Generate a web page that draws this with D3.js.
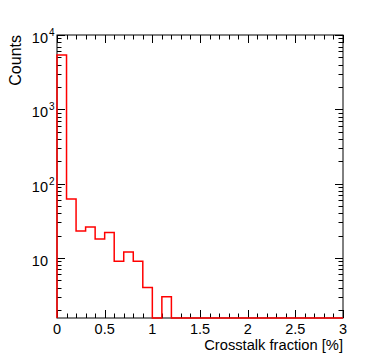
<!DOCTYPE html>
<meta charset="utf-8">
<title>Crosstalk fraction</title>
<style>
body { margin: 0; background: #fff; }
text { font-family: "Liberation Sans", Arial, sans-serif; fill: #000; }
</style>
<body>
<svg width="382" height="354"></svg>
<script src="https://d3js.org/d3.v7.min.js"></script>
<script>

// bin lower edges (width 0.1) and contents
var binEdges = [0, 0.1, 0.2, 0.3, 0.4, 0.5, 0.6, 0.7, 0.8, 0.9, 1.0, 1.1, 1.2, 1.3, 1.4,
                1.5, 1.6, 1.7, 1.8, 1.9, 2.0, 2.1, 2.2, 2.3, 2.4, 2.5, 2.6, 2.7, 2.8, 2.9];
var counts = [5400, 62, 23, 26, 18, 22, 9, 12, 9, 4, 0, 3, 0, 0, 0,
              0, 0, 0, 0, 0, 0, 0, 0, 0, 0, 0, 0, 0, 0, 0];
var binWidth = 0.1;
var xTickLabels = ["0", "0.5", "1", "1.5", "2", "2.5", "3"];
var yDecades = [1, 2, 3, 4];

var svg = d3.select("svg"),
    margin = {top: 35, right: 39, bottom: 36, left: 57},
    width = +svg.attr("width") - margin.left - margin.right,
    height = +svg.attr("height") - margin.top - margin.bottom;

var yMin = 1.556;
var x = d3.scaleLinear().domain([0, 3]).range([0, width]),
    y = d3.scaleLog().domain([yMin, 1e4]).range([height, 0]);

var g = svg.append("g")
    .attr("transform", "translate(" + margin.left + "," + margin.top + ")");

var majorLen = 8, minorLen = 4.5;

// frame
g.append("rect")
    .attr("width", width).attr("height", height)
    .attr("fill", "none").attr("stroke", "#000").attr("stroke-width", 1);

// x ticks (bottom and top)
var xMinor = d3.range(0, 31).map(function(i) { return i / 10; });
xMinor.forEach(function(v, i) {
  var len = (i % 5 === 0) ? majorLen : minorLen;
  var px = Math.round(x(v)) + 0.5;
  g.append("line").attr("x1", px).attr("x2", px)
    .attr("y1", height).attr("y2", height - len).attr("stroke", "#000");
  g.append("line").attr("x1", px).attr("x2", px)
    .attr("y1", 0).attr("y2", len).attr("stroke", "#000");
});

g.selectAll(".xlab")
  .data(xTickLabels)
  .enter().append("text")
    .attr("class", "xlab")
    .attr("x", function(d) { return x(+d); })
    .attr("y", height + 16)
    .attr("text-anchor", "middle")
    .style("font-size", "14.5px")
    .text(function(d) { return d; });

// y ticks (left and right)
var yTicks = [];
for (var k = 0; k <= 3; k++) {
  for (var m = 1; m <= 9; m++) {
    var v = m * Math.pow(10, k);
    if (v >= yMin && v <= 1e4) yTicks.push({v: v, major: m === 1});
  }
}
yTicks.push({v: 1e4, major: true});
yTicks.forEach(function(t) {
  var len = t.major ? majorLen : minorLen;
  var py = Math.round(y(t.v)) + 0.5;
  g.append("line").attr("x1", 0).attr("x2", len)
    .attr("y1", py).attr("y2", py).attr("stroke", "#000");
  g.append("line").attr("x1", width).attr("x2", width - len)
    .attr("y1", py).attr("y2", py).attr("stroke", "#000");
});

yDecades.forEach(function(e) {
  var py = y(Math.pow(10, e));
  g.append("text")
    .attr("x", -9).attr("y", py + 8)
    .attr("text-anchor", "end")
    .style("font-size", "14.5px")
    .text("10");
  if (e > 1) {
    g.append("text")
      .attr("x", -8).attr("y", py + 1)
      .style("font-size", "10px")
      .text(e);
  }
});

// histogram outline
var pts = [[0, yMin]];
binEdges.forEach(function(b, i) {
  var c = Math.max(counts[i], yMin);
  pts.push([b, c]);
  pts.push([b + binWidth, c]);
});
var line = d3.line()
    .x(function(d) { return x(d[0]); })
    .y(function(d) { return y(d[1]); });
g.append("path")
    .datum(pts)
    .attr("d", line)
    .attr("fill", "none")
    .attr("stroke", "#ff0000")
    .attr("stroke-width", 1.5);

// axis titles
svg.append("text")
    .attr("x", margin.left + width)
    .attr("y", 350)
    .attr("text-anchor", "end")
    .style("font-size", "14.7px")
    .text("Crosstalk fraction [%]");

svg.append("text")
    .attr("transform", "translate(21," + margin.top + ") rotate(-90)")
    .attr("text-anchor", "end")
    .style("font-size", "16px")
    .text("Counts");

</script>
</body>
